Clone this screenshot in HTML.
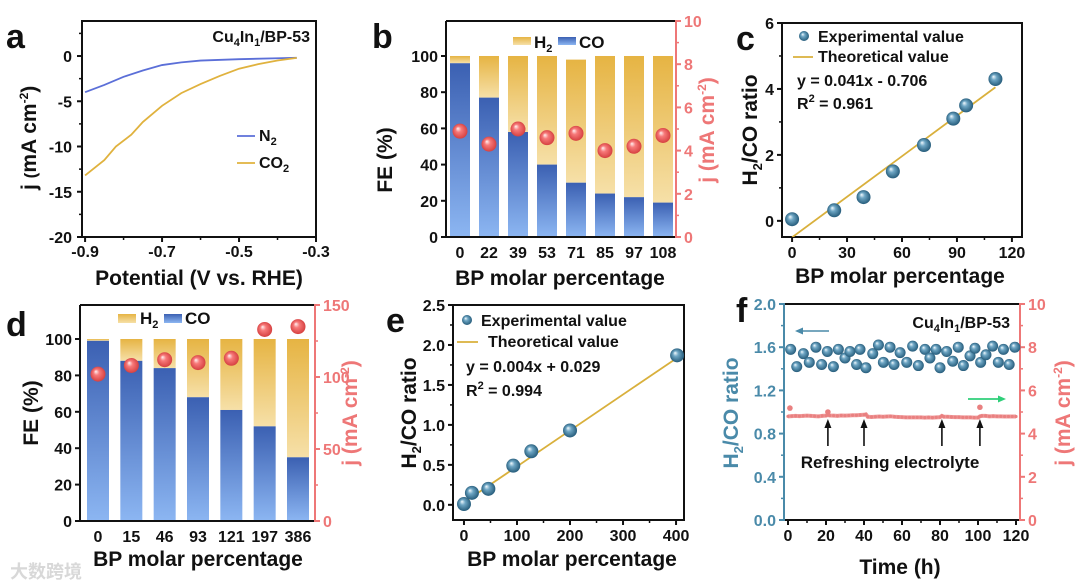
<!DOCTYPE html>
<html><head><meta charset="utf-8"><style>
html,body{margin:0;padding:0;background:#fff;}
svg{display:block;font-family:"Liberation Sans",Arial,sans-serif;font-weight:bold;}
</style></head><body>
<svg id="fig" width="1080" height="588" viewBox="0 0 1080 588" xmlns="http://www.w3.org/2000/svg">
<defs>
<radialGradient id="gTeal" cx="50%" cy="50%" r="55%" fx="35%" fy="32%"><stop offset="0" stop-color="#f4fbff"/><stop offset="0.35" stop-color="#6ea6c4"/><stop offset="1" stop-color="#1d5372"/></radialGradient>
<radialGradient id="gRed" cx="50%" cy="50%" r="55%" fx="35%" fy="32%"><stop offset="0" stop-color="#fff4f4"/><stop offset="0.35" stop-color="#f77a7a"/><stop offset="1" stop-color="#d23a3a"/></radialGradient>
<linearGradient id="gBlue" x1="0" y1="0" x2="0" y2="1"><stop offset="0" stop-color="#3b60b2"/><stop offset="1" stop-color="#8cb6f2"/></linearGradient>
<linearGradient id="gGold" x1="0" y1="0" x2="0" y2="1"><stop offset="0" stop-color="#e6b443"/><stop offset="1" stop-color="#f6e0a8"/></linearGradient>
<clipPath id="clipC"><rect x="782" y="23" width="240" height="214"/></clipPath>
</defs>
</svg>
<script>
// ---- Data ----
const aPotN2 = [-0.9,-0.85,-0.8,-0.75,-0.7,-0.65,-0.6,-0.5,-0.4,-0.35];
const aJN2 = [-4,-3.2,-2.3,-1.6,-1.0,-0.7,-0.5,-0.35,-0.25,-0.2];
const aPotCO2 = [-0.9,-0.85,-0.82,-0.78,-0.75,-0.7,-0.65,-0.6,-0.55,-0.5,-0.45,-0.4,-0.35];
const aJCO2 = [-13.2,-11.5,-10,-8.7,-7.3,-5.5,-4.1,-3.1,-2.2,-1.4,-0.9,-0.5,-0.2];
const bCats = ["0","22","39","53","71","85","97","108"];
const bCO = [96,77,58,40,30,24,22,19];
const bTotal = [100,100,100,100,98,100,100,100];
const bJ = [4.9,4.3,5.0,4.6,4.8,4.0,4.2,4.7];
const cX = [0,23,39,55,72,88,95,111];
const cY = [0.05,0.32,0.72,1.5,2.3,3.1,3.5,4.3];
const cFit = [0.041,-0.5];
const dCats = ["0","15","46","93","121","197","386"];
const dCO = [99,88,84,68,61,52,35];
const dJ = [102,108,112,110,113,133,135];
const eX = [0,15,46,93,127,200,402];
const eY = [0.01,0.15,0.2,0.49,0.67,0.93,1.87];
const eFit = [0.0045,0.03];
const fT = [1.4,4.6,8.1,11.2,14.7,17.7,20.7,23.9,26.5,30.0,32.6,36.1,37.9,41.0,44.6,47.6,50.2,53.7,55.8,59.0,62.5,65.6,68.6,72.1,74.7,77.9,80.0,83.5,86.7,89.6,92.3,95.8,98.4,101.4,104.2,107.7,110.7,113.4,116.4,119.4];
const fRatio = [1.58,1.42,1.54,1.46,1.60,1.44,1.56,1.42,1.58,1.50,1.56,1.44,1.58,1.41,1.54,1.62,1.46,1.60,1.44,1.55,1.46,1.61,1.43,1.58,1.50,1.58,1.41,1.56,1.47,1.60,1.43,1.52,1.59,1.46,1.53,1.61,1.46,1.58,1.44,1.60];
const fJT = [0,2,4,6,8,10,12,14,16,18,20,21,22,24,26,28,30,32,34,36,38,40,41,42,44,46,48,50,52,54,56,58,60,62,64,66,68,70,72,74,76,78,80,81,82,84,86,88,90,92,94,96,98,100,101,102,104,106,108,110,112,114,116,118,120];
const fJ = [4.80,4.81,4.82,4.81,4.82,4.83,4.82,4.81,4.80,4.82,4.83,4.86,4.84,4.83,4.82,4.84,4.83,4.84,4.85,4.85,4.86,4.87,4.89,4.78,4.77,4.78,4.79,4.78,4.79,4.80,4.78,4.77,4.76,4.75,4.75,4.75,4.75,4.75,4.74,4.75,4.74,4.75,4.76,4.82,4.78,4.78,4.77,4.76,4.76,4.75,4.75,4.75,4.74,4.74,4.80,4.82,4.82,4.80,4.81,4.80,4.80,4.79,4.79,4.79,4.79];
const fSpikeT = [1,21,101];
const fSpikeJ = [5.18,5.0,5.22];
const fArrowT = [21,40,81,101];

// ---- helpers ----
const NS="http://www.w3.org/2000/svg";
const svg=document.getElementById('fig');
function mk(tag,attrs,parent){const e=document.createElementNS(NS,tag);for(const k in attrs)e.setAttribute(k,attrs[k]);(parent||svg).appendChild(e);return e;}
function lin(d0,d1,r0,r1){return v=>r0+(v-d0)/(d1-d0)*(r1-r0);}
function txt(x,y,s,size,opt){opt=opt||{};const t=mk('text',{x:x,y:y,'font-size':size,'text-anchor':opt.anchor||'start',fill:opt.fill||'#111'});if(opt.rot)t.setAttribute('transform','rotate(-90 '+x+' '+y+')');t.innerHTML=s;return t;}
function line(x1,y1,x2,y2,c,w){return mk('line',{x1:x1,y1:y1,x2:x2,y2:y2,stroke:c||'#111','stroke-width':w||2});}
function sphere(cx,cy,r,g){return mk('circle',{cx:cx,cy:cy,r:r,fill:'url(#'+g+')'});}

// ===== Panel a =====
(function(){
const X=lin(-0.908,-0.3,82,316),Y=lin(-20,3.87,237,21);
txt(6,48,'a',34);
mk('rect',{x:82,y:21,width:234,height:216,fill:'none',stroke:'#111','stroke-width':2});
[0,-5,-10,-15,-20].forEach(v=>{line(77,Y(v),82,Y(v));txt(72,Y(v)+6,String(v),16,{anchor:'end'});});
[2.5,-2.5,-7.5,-12.5,-17.5].forEach(v=>line(79,Y(v),82,Y(v),'#111',1.5));
[-0.9,-0.7,-0.5,-0.3].forEach(v=>{line(X(v),237,X(v),242);txt(X(v),257,v.toFixed(1),16,{anchor:'middle'});});
[-0.8,-0.6,-0.4].forEach(v=>line(X(v),237,X(v),240,'#111',1.5));
const pN=mk('path',{d:aPotN2.map((p,i)=>(i?'L':'M')+X(p)+' '+Y(aJN2[i])).join(''),fill:'none',stroke:'#5b6fd8','stroke-width':1.8});

const pC=mk('path',{d:aPotCO2.map((p,i)=>(i?'L':'M')+X(p)+' '+Y(aJCO2[i])).join(''),fill:'none',stroke:'#e0b23e','stroke-width':1.8});

txt(310,42,'Cu<tspan font-size="11" dy="4">4</tspan><tspan dy="-4">In</tspan><tspan font-size="11" dy="4">1</tspan><tspan dy="-4">/BP-53</tspan>',16,{anchor:'end'});
line(237,136,255,136,'#5b6fd8',1.8);txt(259,141,'N<tspan font-size="11" dy="4">2</tspan>',16);
line(237,163,255,163,'#e0b23e',1.8);txt(259,168,'CO<tspan font-size="11" dy="4">2</tspan>',16);
txt(199,285,'Potential (V vs. RHE)',21,{anchor:'middle'});
txt(36,190,'j <tspan font-size="17">(</tspan>mA cm<tspan font-size="12" dy="-8">-2</tspan><tspan dy="8">)</tspan>',21,{rot:1});
})();

// ===== Bar panel helper =====
function barPanel(o){
const Y=lin(0,o.ymax,o.bottom,o.top),YR=lin(0,o.rmax,o.bottom,o.top);
txt(o.letterX,o.letterY,o.letter,34);
const n=o.cats.length,step=(o.lastC-o.firstC)/(n-1);
for(let i=0;i<n;i++){
 const cx=o.firstC+i*step;
 const h2=mk('rect',{x:cx-o.bw/2,y:Y(o.total[i]),width:o.bw,height:Y(o.co[i])-Y(o.total[i]),fill:'url(#gGold)'});
 
 const co=mk('rect',{x:cx-o.bw/2,y:Y(o.co[i]),width:o.bw,height:o.bottom-Y(o.co[i]),fill:'url(#gBlue)'});
 
 txt(cx,o.bottom+21,o.cats[i],16,{anchor:'middle'});
}
for(let i=0;i<n;i++){const cx=o.firstC+i*step;const s=sphere(cx,YR(o.j[i]),7.5,'gRed');}
line(o.left,o.top,o.left,o.bottom+1);line(o.left-1,o.bottom,o.right,o.bottom);line(o.left,o.top,o.right,o.top);
line(o.right,o.top-1,o.right,o.bottom+1,'#ee7777',2);
o.yticks.forEach(v=>{line(o.left-5,Y(v),o.left,Y(v));txt(o.left-8,Y(v)+6,String(v),16,{anchor:'end'});});
o.rticks.forEach(v=>{line(o.right,YR(v),o.right+5,YR(v),'#ee7777');txt(o.right+8,YR(v)+6,String(v),16,{fill:'#ee7777'});});
o.rminor.forEach(v=>line(o.right,YR(v),o.right+3,YR(v),'#ee7777',1.5));
}
barPanel({letter:'b',letterX:372,letterY:48,cats:bCats,co:bCO,total:bTotal,j:bJ,ymax:100/0.838,rmax:10,left:446,right:676,top:21,bottom:237,firstC:460,lastC:663,bw:20,yticks:[0,20,40,60,80,100],rticks:[0,2,4,6,8,10],rminor:[1,3,5,7,9]});
mk('rect',{x:513,y:37,width:18,height:8,fill:'url(#gGold)'});txt(534,48,'H<tspan font-size="11" dy="4">2</tspan>',17);
mk('rect',{x:558,y:37,width:18,height:8,fill:'url(#gBlue)'});txt(579,48,'CO',17);
txt(560,285,'BP molar percentage',21,{anchor:'middle'});
txt(392,160,'FE (%)',21,{anchor:'middle',rot:1});
txt(714,130,'j (mA cm<tspan font-size="12" dy="-8">-2</tspan><tspan dy="8">)</tspan>',21,{anchor:'middle',rot:1,fill:'#ee7777'});

barPanel({letter:'d',letterX:6,letterY:336,cats:dCats,co:dCO,total:dCO.map(()=>100),j:dJ,ymax:100*(521-305)/(521-339),rmax:150,left:80,right:315,top:305,bottom:521,firstC:98,lastC:298,bw:22,yticks:[0,20,40,60,80,100],rticks:[0,50,100,150],rminor:[25,75,125]});
mk('rect',{x:118,y:314,width:18,height:9,fill:'url(#gGold)'});txt(140,324,'H<tspan font-size="11" dy="4">2</tspan>',17);
mk('rect',{x:164,y:314,width:18,height:9,fill:'url(#gBlue)'});txt(185,324,'CO',17);
txt(198,566,'BP molar percentage',21,{anchor:'middle'});
txt(38,413,'FE (%)',21,{anchor:'middle',rot:1});
txt(357,413,'j (mA cm<tspan font-size="12" dy="-8">-2</tspan><tspan dy="8">)</tspan>',21,{anchor:'middle',rot:1,fill:'#ee7777'});
txt(10,578,'大数跨境',18,{fill:'#d8d8d8'}).setAttribute('font-family','"Noto Sans CJK SC",sans-serif');

// ===== Scatter panels =====
function scatter(o){
const X=lin(o.xd[0],o.xd[1],o.left,o.right),Y=lin(o.yd[0],o.yd[1],o.bottom,o.top);
txt(o.letterX,o.letterY,o.letter,34);
mk('rect',{x:o.left,y:o.top,width:o.right-o.left,height:o.bottom-o.top,fill:'none',stroke:'#111','stroke-width':2});
o.yticks.forEach(v=>{line(o.left-5,Y(v),o.left,Y(v));txt(o.left-8,Y(v)+6,o.yfmt(v),16,{anchor:'end'});});
o.yminor.forEach(v=>line(o.left-3,Y(v),o.left,Y(v),'#111',1.5));
o.xticks.forEach(v=>{line(X(v),o.bottom,X(v),o.bottom+5);txt(X(v),o.bottom+21,String(v),16,{anchor:'middle'});});
o.xminor.forEach(v=>line(X(v),o.bottom,X(v),o.bottom+3,'#111',1.5));
const x0=o.fitX[0],x1=o.fitX[1];
const fl=mk('line',{x1:X(x0),y1:Y(o.fit[0]*x0+o.fit[1]),x2:X(x1),y2:Y(o.fit[0]*x1+o.fit[1]),stroke:'#d9b03c','stroke-width':1.8});
if(o.clip)fl.setAttribute('clip-path','url(#'+o.clip+')');

o.xs.forEach((v,i)=>{const s=sphere(X(v),Y(o.ys[i]),7,'gTeal');});
}
scatter({letter:'c',letterX:736,letterY:50,xd:[-5.5,125.5],yd:[-0.49,6],left:782,right:1022,top:23,bottom:237,xs:cX,ys:cY,fit:cFit,fitX:[0,111],clip:'clipC',yticks:[0,2,4,6],yfmt:v=>String(v),yminor:[1,3,5],xticks:[0,30,60,90,120],xminor:[15,45,75,105]});
sphere(804,36,5,'gTeal');txt(818,42,'Experimental value',16);
line(793,57,813,57,'#d9b03c',1.8);txt(818,62,'Theoretical value',16);
txt(797,86,'y = 0.041x - 0.706',16);
txt(797,109,'R<tspan font-size="11" dy="-7">2</tspan><tspan dy="7"> = 0.961</tspan>',16);
txt(900,283,'BP molar percentage',21,{anchor:'middle'});
txt(757,130,'H<tspan font-size="13" dy="5">2</tspan><tspan dy="-5">/CO ratio</tspan>',21,{anchor:'middle',rot:1});

scatter({letter:'e',letterX:386,letterY:332,xd:[-20.7,415],yd:[-0.19,2.5],left:453,right:684,top:305,bottom:520,xs:eX,ys:eY,fit:eFit,fitX:[0,402],yticks:[0,0.5,1,1.5,2,2.5],yfmt:v=>v.toFixed(1),yminor:[0.25,0.75,1.25,1.75,2.25],xticks:[0,100,200,300,400],xminor:[50,150,250,350]});
sphere(467,320,5,'gTeal');txt(481,326,'Experimental value',16);
line(457,342,478,342,'#d9b03c',1.8);txt(488,347,'Theoretical value',16);
txt(466,372,'y = 0.004x + 0.029',16);
txt(466,396,'R<tspan font-size="11" dy="-7">2</tspan><tspan dy="7"> = 0.994</tspan>',16);
txt(572,566,'BP molar percentage',21,{anchor:'middle'});
txt(416,413,'H<tspan font-size="13" dy="5">2</tspan><tspan dy="-5">/CO ratio</tspan>',21,{anchor:'middle',rot:1});

// ===== Panel f =====
(function(){
const X=lin(0,120,788,1016),Y=lin(0,2,520,304),YR=lin(0,10,520,304);
const teal='#4a8aa9',red='#ee7777';
txt(736,322,'f',34);
line(784,304,1020,304);line(784,520,1020,520,'#111',2);
line(784,303,784,521,teal,2);line(1020,303,1020,521,red,2);
[0,0.4,0.8,1.2,1.6,2.0].forEach(v=>{line(779,Y(v),784,Y(v),teal);txt(776,Y(v)+6,v.toFixed(1),16,{anchor:'end',fill:teal});});
[0.2,0.6,1.0,1.4,1.8].forEach(v=>line(781,Y(v),784,Y(v),teal,1.5));
[0,2,4,6,8,10].forEach(v=>{line(1020,YR(v),1025,YR(v),red);txt(1028,YR(v)+6,String(v),16,{fill:red});});
[1,3,5,7,9].forEach(v=>line(1020,YR(v),1023,YR(v),red,1.5));
[0,20,40,60,80,100,120].forEach(v=>{line(X(v),520,X(v),525);txt(X(v),541,String(v),16,{anchor:'middle'});});
[10,30,50,70,90,110].forEach(v=>line(X(v),520,X(v),523,'#111',1.5));
const jl=mk('path',{d:fJT.map((t,i)=>(i?'L':'M')+X(t)+' '+YR(fJ[i])).join(''),fill:'none',stroke:'#f09a9a','stroke-width':4});

fJT.forEach((t,i)=>mk('circle',{cx:X(t),cy:YR(fJ[i]),r:1.6,fill:'#e98080'}));
fSpikeT.forEach((t,i)=>{const c=mk('circle',{cx:X(t),cy:YR(fSpikeJ[i]),r:2.8,fill:'#e98080'});});
fT.forEach((t,i)=>{const s=sphere(X(t),Y(fRatio[i]),5.5,'gTeal');});
fArrowT.forEach(t=>{line(X(t),446,X(t),426,'#111',1.6);mk('path',{d:'M'+(X(t)-3.5)+' 428 L'+X(t)+' 419 L'+(X(t)+3.5)+' 428 Z',fill:'#111'});});
txt(890,468,'Refreshing electrolyte',17,{anchor:'middle'});
txt(1010,328,'Cu<tspan font-size="11" dy="4">4</tspan><tspan dy="-4">In</tspan><tspan font-size="11" dy="4">1</tspan><tspan dy="-4">/BP-53</tspan>',16,{anchor:'end'});
line(800,331,829,331,teal,1.6);mk('path',{d:'M795 331 L803 327.5 L803 334.5 Z',fill:teal});
line(968,399,1000,399,'#2fcf79',1.8);mk('path',{d:'M1006 399 L998 395.5 L998 402.5 Z',fill:'#2fcf79'});
txt(900,574,'Time (h)',21,{anchor:'middle'});
txt(738,413,'H<tspan font-size="13" dy="5">2</tspan><tspan dy="-5">/CO ratio</tspan>',21,{anchor:'middle',rot:1,fill:teal});
txt(1070,413,'j (mA cm<tspan font-size="12" dy="-8">-2</tspan><tspan dy="8">)</tspan>',21,{anchor:'middle',rot:1,fill:red});
})();
</script>
</body></html>
